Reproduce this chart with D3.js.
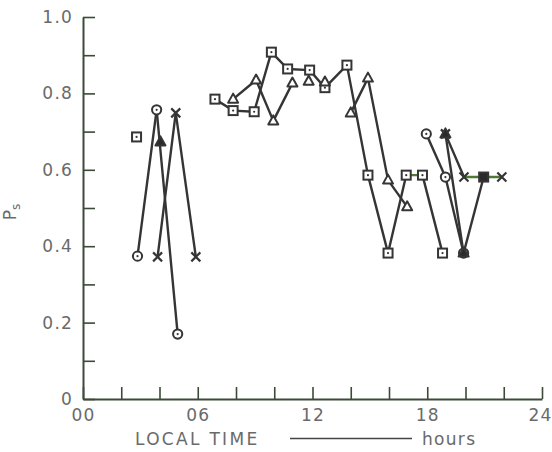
<!DOCTYPE html>
<html><head><meta charset="utf-8">
<script src="https://cdn.jsdelivr.net/npm/d3@7"></script>
<style>html,body{margin:0;padding:0;background:#fff}</style>
</head><body><svg id="chart" width="552" height="452"></svg>
<script>
// ---- data (hours local time, Ps) ----
const xTickValues = [0, 2, 4, 6, 8, 10, 12, 14, 16, 18, 20, 22, 24];
const xLabeled = [0, 6, 12, 18, 24];
const xTickLabels = ["00", "06", "12", "18", "24"];
const yTickValues = [0, 0.1, 0.2, 0.3, 0.4, 0.5, 0.6, 0.7, 0.8, 0.9, 1.0];
const yLabeled = [0, 0.2, 0.4, 0.6, 0.8, 1.0];
const yTickLabels = ["0", "0.2", "0.4", "0.6", "0.8", "1.0"];

// open square (with centre dot)
const squareHours  = [2.8, null, 6.9, 7.85, 8.95, 9.85, 10.7, 11.85, 12.65, 13.8, 14.9, 15.95, 16.9, 17.75, 18.8];
const squareValues = [0.686, null, 0.785, 0.755, 0.752, 0.908, 0.864, 0.861, 0.815, 0.874, 0.586, 0.382, 0.586, 0.586, 0.382];
// open triangle
const triangleHours  = [7.85, 9.05, 9.95, 10.95, null, 11.8, null, 12.65, null, 14.0, 14.9, 15.95, 16.95];
const triangleValues = [0.785, 0.835, 0.728, 0.827, null, 0.832, null, 0.83, null, 0.749, 0.84, 0.573, 0.503];
// circle (with centre dot)
const circleHours  = [2.85, 3.85, 4.95, null, 17.95, 18.95, 19.9];
const circleValues = [0.374, 0.757, 0.170, null, 0.694, 0.581, 0.382];
// cross
const crossHours  = [3.9, 4.85, 5.9, null, 18.95, 19.92, 20.95, 21.9];
const crossValues = [0.372, 0.749, 0.372, null, 0.694, 0.581, 0.581, 0.581];
// filled markers
const filledHours   = [4.05, null, 18.95, 19.9, 20.95];
const filledValues  = [0.673, null, 0.694, 0.382, 0.581];
const filledMarkers = ["filledTriangle", null, "filledTriangle", "filledTriangle", "filledSquare"];

const series = [
  {hours: squareHours, values: squareValues, marker: "square"},
  {hours: triangleHours, values: triangleValues, marker: "triangle"},
  {hours: circleHours, values: circleValues, marker: "circle"},
  {hours: crossHours, values: crossValues, marker: "cross"},
  {hours: filledHours, values: filledValues, markers: filledMarkers}
];

// ---- drawing ----
const svg = d3.select("#chart");
const x = d3.scaleLinear().domain([0, 24]).range([83, 542]);
const y = d3.scaleLinear().domain([0, 1]).range([399, 17]);
const ink = "#353535";
const green = "#4d7a36";
const textCol = "#6a6a6a";
const font = "DejaVu Sans";

// axes
const xAxis = d3.axisBottom(x).tickValues(xTickValues).tickSizeInner(-12).tickSizeOuter(0).tickPadding(10)
  .tickFormat(d => { const i = xLabeled.indexOf(d); return i >= 0 ? xTickLabels[i] : ""; });
const yAxis = d3.axisLeft(y).tickValues(yTickValues).tickSizeInner(-12).tickSizeOuter(0).tickPadding(10)
  .tickFormat(d => { const i = yLabeled.findIndex(v => Math.abs(v - d) < 1e-9); return i >= 0 ? yTickLabels[i] : ""; });

const gx = svg.append("g").attr("transform", `translate(0,${y(0)})`).call(xAxis);
const gy = svg.append("g").attr("transform", `translate(${x(0)},0)`).call(yAxis);
[gx, gy].forEach(g => {
  g.select(".domain").attr("stroke", "#3c4a38").attr("stroke-width", 2);
  g.selectAll(".tick line").attr("stroke", "#3c4a38").attr("stroke-width", 1.6);
  g.selectAll(".tick text").attr("fill", textCol).attr("font-family", font)
    .attr("font-size", 17).attr("font-weight", 400).attr("letter-spacing", 1.2);
});
// keep the last x label inside the picture
gx.selectAll(".tick text").filter(d => d === 24).attr("text-anchor", "end").attr("x", 10);

// y label P_s
const yl = svg.append("text").attr("transform", "translate(16,212) rotate(-90)")
  .attr("text-anchor", "middle").attr("fill", textCol).attr("font-family", font)
  .attr("font-size", 17).attr("font-weight", 400);
yl.append("tspan").text("P");
yl.append("tspan").attr("font-size", 12).attr("dy", 4).text("s");

// x label
svg.append("text").attr("x", 135).attr("y", 445).attr("fill", textCol).attr("font-family", font)
  .attr("font-size", 17).attr("font-weight", 400).attr("letter-spacing", 2.3).text("LOCAL TIME");
svg.append("line").attr("x1", 290).attr("x2", 412).attr("y1", 438.5).attr("y2", 438.5)
  .attr("stroke", "#444").attr("stroke-width", 1.5);
svg.append("text").attr("x", 422).attr("y", 445).attr("fill", textCol).attr("font-family", font)
  .attr("font-size", 17).attr("font-weight", 400).attr("letter-spacing", 1.3).text("hours");

// line segments
const segs = [];
series.forEach(s => {
  for (let i = 0; i < s.hours.length - 1; i++) {
    if (s.hours[i] == null || s.hours[i + 1] == null) continue;
    segs.push({x1: s.hours[i], y1: s.values[i], x2: s.hours[i + 1], y2: s.values[i + 1]});
  }
});
svg.append("g").selectAll("line").data(segs).join("line")
  .attr("x1", d => x(d.x1)).attr("y1", d => y(d.y1))
  .attr("x2", d => x(d.x2)).attr("y2", d => y(d.y2))
  .attr("stroke", d => d.y1 === d.y2 ? green : ink)
  .attr("stroke-width", 2.4).attr("stroke-linecap", "round");

// markers
const pts = [];
series.forEach(s => {
  s.hours.forEach((h, i) => {
    if (h == null) return;
    pts.push({h, v: s.values[i], m: s.markers ? s.markers[i] : s.marker});
  });
});
const mg = svg.append("g");
pts.forEach(p => {
  const g = mg.append("g").attr("transform", `translate(${x(p.h)},${y(p.v)})`);
  if (p.m === "square" || p.m === "filledSquare") {
    g.append("rect").attr("x", -4.5).attr("y", -4.5).attr("width", 9).attr("height", 9)
      .attr("fill", p.m === "square" ? "#fff" : "#2a2a2a").attr("stroke", ink).attr("stroke-width", 2);
    if (p.m === "square") g.append("circle").attr("r", 1.1).attr("fill", ink);
  } else if (p.m === "circle") {
    g.append("circle").attr("r", 4.6).attr("fill", "#fff").attr("stroke", ink).attr("stroke-width", 2);
    g.append("circle").attr("r", 1.1).attr("fill", ink);
  } else if (p.m === "triangle" || p.m === "filledTriangle") {
    g.append("path").attr("d", "M0,-5.5L5,3.5L-5,3.5Z")
      .attr("fill", p.m === "triangle" ? "#fff" : "#2a2a2a").attr("stroke", ink).attr("stroke-width", 2)
      .attr("stroke-linejoin", "round");
  } else if (p.m === "cross") {
    g.append("path").attr("d", "M-4.5,-4.5L4.5,4.5M4.5,-4.5L-4.5,4.5")
      .attr("stroke", ink).attr("stroke-width", 2.2).attr("fill", "none");
  }
});
</script></body></html>
